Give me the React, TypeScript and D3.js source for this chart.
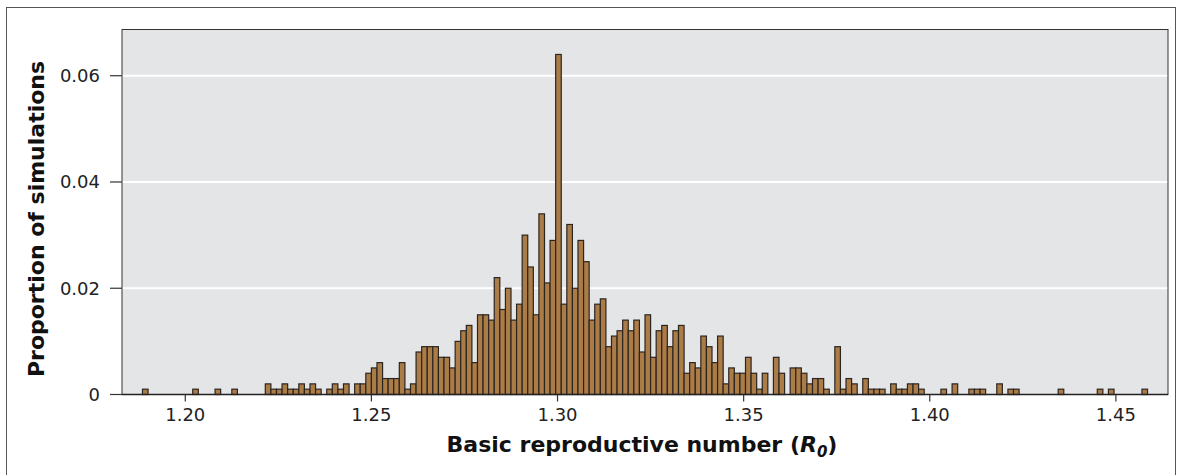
import React from "react";
import * as d3 from "d3";

// Histogram of R0 across 1000 simulations; counts per bin (proportion = count / 1000)
const binStart = 1.1885;
const binWidth = 0.0015;
const binCounts: number[] = [
  1, 0, 0, 0, 0, 0, 0, 0, 0, 1, 0, 0, 0, 1, 0, 0, 1, 0, 0, 0, 0, 0,
  2, 1, 1, 2, 1, 1, 2, 1, 2, 1, 0, 1, 2, 1, 2, 0, 2, 2, 4,
  5, 6, 3, 3, 3, 6, 1, 2, 8, 9, 9, 9, 7, 7, 5,
  10, 12, 13, 6, 15, 15, 14, 22, 16, 20, 14, 17, 30, 24, 15,
  34, 21, 29, 64, 17, 32, 20, 29, 25, 14, 17, 18,
  9, 11, 12, 14, 12, 14, 8, 15, 7, 12, 13, 9, 12, 13, 4, 6, 5, 11, 9, 6, 11,
  2, 5, 4, 4, 7, 4, 1, 4, 0, 7, 4, 0, 5, 5, 4, 2, 3, 3, 1, 0, 9,
  1, 3, 2, 0, 3, 1, 1, 1, 0, 2, 1, 1, 2, 2, 1,
  0, 0, 0, 1, 0, 2, 0, 0, 1, 1, 1, 0, 0, 2, 0, 1, 1,
  0, 0, 0, 0, 0, 0, 0, 1, 0, 0, 0, 0, 0, 0, 1, 0, 1, 0, 0, 0, 0, 0, 1,
];
const totalSimulations = 1000;
const xTicks = [1.2, 1.25, 1.3, 1.35, 1.4, 1.45];
const yTicks = [0, 0.02, 0.04, 0.06];

const W = 1177;
const H = 475;
const panel = { left: 122, right: 1168, top: 29.5, bottom: 394.5 };
const FONT = "'DejaVu Sans', 'Open Sans', sans-serif";

export default function App() {
  const x = d3.scaleLinear().domain([1.183, 1.464]).range([panel.left, panel.right]);
  const y = d3.scaleLinear().domain([0, 0.0687]).range([panel.bottom, panel.top]);

  const bins = binCounts.map((c, i) => ({
    x0: binStart + i * binWidth,
    x1: binStart + (i + 1) * binWidth,
    p: c / totalSimulations,
  }));

  const fmtY = (v: number) => (v === 0 ? "0" : d3.format(".2f")(v));
  const fmtX = d3.format(".2f");

  return (
    <svg
      width={W}
      height={H}
      style={{ position: "absolute", left: 0, top: 0, background: "#fff" }}
      fontFamily={FONT}
    >
      {/* outer frame */}
      <rect x={6.5} y={7.5} width={1169} height={520} fill="none" stroke="#555" strokeWidth={1} />

      {/* panel */}
      <rect
        x={panel.left}
        y={panel.top}
        width={panel.right - panel.left}
        height={panel.bottom - panel.top}
        fill="#e4e5e7"
      />
      {yTicks
        .filter((t) => t > 0)
        .map((t) => (
          <line
            key={"g" + t}
            x1={panel.left}
            x2={panel.right}
            y1={y(t)}
            y2={y(t)}
            stroke="#ffffff"
            strokeWidth={2}
          />
        ))}

      {/* bars */}
      {bins
        .filter((b) => b.p > 0)
        .map((b, i) => (
          <rect
            key={i}
            x={x(b.x0)}
            y={y(b.p)}
            width={x(b.x1) - x(b.x0)}
            height={y(0) - y(b.p)}
            fill="#ac7c47"
            stroke="#2b2522"
            strokeWidth={1.2}
          />
        ))}

      {/* panel border / axes */}
      <rect
        x={panel.left}
        y={panel.top}
        width={panel.right - panel.left}
        height={panel.bottom - panel.top}
        fill="none"
        stroke="#333"
        strokeWidth={1}
      />
      <line x1={panel.left} x2={panel.right} y1={panel.bottom} y2={panel.bottom} stroke="#222" strokeWidth={1.5} />

      {/* y axis */}
      {yTicks.map((t) => (
        <g key={"y" + t}>
          <line x1={110} x2={panel.left} y1={y(t)} y2={y(t)} stroke="#333" strokeWidth={1.2} />
          <text
            x={100}
            y={y(t)}
            dy="0.36em"
            textAnchor="end"
            fontSize={18}
            fill="#222"
          >
            {fmtY(t)}
          </text>
        </g>
      ))}

      {/* x axis */}
      {xTicks.map((t) => (
        <g key={"x" + t}>
          <line x1={x(t)} x2={x(t)} y1={panel.bottom} y2={panel.bottom + 7} stroke="#333" strokeWidth={1.2} />
          <text x={x(t)} y={421} textAnchor="middle" fontSize={18} fill="#222">
            {fmtX(t)}
          </text>
        </g>
      ))}

      {/* axis titles */}
      <text
        transform={`translate(44, ${(panel.top + panel.bottom) / 2 + 7}) rotate(-90)`}
        textAnchor="middle"
        fontSize={22}
        fontWeight="bold"
        fill="#111"
      >
        Proportion of simulations
      </text>
      <text x={642} y={452} textAnchor="middle" fontSize={22} fontWeight="bold" fill="#111">
        Basic reproductive number (
        <tspan fontStyle="italic">R</tspan>
        <tspan fontStyle="italic" fontSize={15} dy={5}>0</tspan>
        <tspan dy={-5}>)</tspan>
      </text>
    </svg>
  );
}
